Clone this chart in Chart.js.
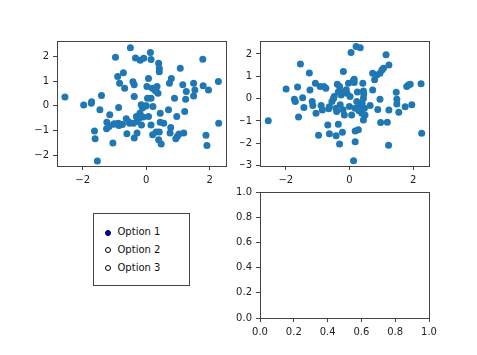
<!DOCTYPE html>
<html>
<head>
<meta charset="utf-8">
<script src="https://cdn.jsdelivr.net/npm/chart.js@4.4.0/dist/chart.umd.min.js"></script>
<style>
  html, body { margin:0; padding:0; background:#fff; width:477px; height:355px; overflow:hidden; }
  canvas { position:absolute; }
  #radio { position:absolute; left:93px; top:213px; width:97px; height:73px; border:1px solid #444; box-sizing:border-box; background:#fff; }
  .opt { position:absolute; left:0; font-family:"DejaVu Sans", sans-serif; font-size:10px; color:#111; line-height:12px; white-space:nowrap; }
  .dot { position:absolute; width:6px; height:6px; border:1px solid #000; border-radius:50%; box-sizing:border-box; background:#fff; }
  .dot.on { background:#0000ff; }
</style>
</head>
<body>
<canvas id="c1" width="240" height="190" style="left:0;top:0;"></canvas>
<canvas id="c2" width="237" height="190" style="left:240px;top:0;"></canvas>
<canvas id="c3" width="247" height="175" style="left:230px;top:180px;"></canvas>
<div id="radio"></div>
<script>
// ---------- data ----------
const scatter1X = [-2.56,-1.97,-1.73,-1.72,-1.41,-1.46,-1.63,-1.61,-1.54,-1.15,-1.24,-1.25,-1.17,-1.05,-0.87,-0.97,-0.90,-0.84,-0.72,-0.68,
  -0.88,-0.86,-1.03,-0.63,-0.61,-0.50,-0.52,-0.40,-0.42,-0.38,-0.38,-0.34,-0.19,-0.08,0.13,0.15,-0.31,-0.23,-0.29,-0.15,
  -0.38,-0.29,-0.16,-0.12,-0.02,0.02,0.07,0.04,0.15,0.07,0.15,0.21,0.19,0.28,0.34,0.37,0.39,0.41,0.41,0.44,
  0.44,0.31,0.41,0.20,0.39,0.47,0.70,0.75,0.77,0.73,0.79,0.89,0.96,0.93,0.98,1.03,1.07,1.15,1.18,1.21,
  1.24,1.26,1.49,1.49,1.53,1.78,1.79,1.88,1.91,1.96,2.27,2.28,-0.55,-0.75,-0.10,0.00,0.30,-0.20,0.55,-1.00];
const scatter1Y = [0.36,0.03,0.11,0.17,0.42,-0.16,-1.02,-1.33,-2.23,-0.36,-0.66,-0.93,-0.83,-1.50,-0.07,1.96,1.19,0.91,1.34,0.71,
  -0.70,-0.79,-0.74,-0.52,-1.13,2.35,-0.70,-0.70,0.97,0.85,0.38,1.93,1.84,1.92,2.16,1.87,-0.43,-0.50,-0.63,-0.77,
  -1.30,-1.10,0.04,-0.09,-0.01,0.78,1.11,0.31,0.31,-0.43,-0.77,-0.03,0.71,0.64,0.78,0.51,1.72,1.52,1.38,-0.30,
  -0.66,-1.06,-1.06,-1.17,-1.37,-1.54,-0.16,-1.10,-0.87,0.91,1.11,0.31,-0.43,-1.33,-1.23,-1.14,1.52,0.85,-1.10,-0.23,
  0.27,0.58,0.91,0.40,0.64,1.88,0.81,-1.19,-1.60,0.64,0.98,-0.70,-0.65,-0.75,-0.45,0.00,0.60,-0.30,-0.70,-0.72];

const scatter2X = [-2.55,-1.99,-1.73,-1.70,-1.63,-1.60,-1.54,-1.47,-1.43,-1.26,-1.24,-1.17,-1.15,-1.07,-1.05,-0.97,-0.92,-0.89,-0.85,-0.80,
  -0.74,-0.68,-0.63,-0.63,-0.55,-0.48,-0.42,-0.38,-0.35,-0.31,-0.31,-0.26,-0.22,-0.19,-0.17,-0.16,-0.08,-0.03,-0.40,-0.42,
  -0.29,0.02,0.05,0.07,0.13,0.15,0.15,0.18,0.18,0.21,0.34,0.28,0.18,0.23,0.34,0.39,0.42,0.44,0.44,0.47,
  0.49,0.44,0.65,0.73,0.73,0.79,0.86,0.89,0.96,0.96,1.02,1.07,0.98,1.15,1.19,1.23,1.24,1.24,1.47,1.49,
  1.49,1.55,1.75,1.80,1.85,1.91,1.96,2.25,2.27,-0.50,-0.35,0.25,0.40,-0.20,0.00,0.30,-0.65,0.45,-0.10,0.12];
const scatter2Y = [-0.99,0.43,-0.03,-0.13,0.52,-0.82,1.55,0.04,-0.40,1.15,0.39,-0.13,-0.31,0.69,-0.66,-1.64,0.54,-0.31,-0.51,0.54,
  0.46,-1.18,-1.58,-0.36,-0.13,0.09,-1.67,0.64,-1.15,-2.03,0.54,0.16,-1.51,1.21,0.31,-0.73,0.24,0.69,-0.58,-0.43,
  -0.28,0.09,2.07,-0.73,-2.79,0.87,0.72,-1.45,-1.93,2.33,2.28,-1.40,-0.43,-0.13,-0.28,-0.66,0.69,0.34,0.01,-0.43,
  -0.73,-0.96,-0.31,0.39,1.13,0.84,1.06,-0.49,-0.03,1.13,1.28,1.36,-1.07,1.96,-1.06,-2.09,1.51,-0.51,0.28,-0.03,
  -0.24,-0.61,-0.36,0.54,0.61,0.64,-0.28,0.66,-1.55,0.00,0.30,0.30,-0.20,-0.50,-0.35,-0.55,-0.45,0.20,0.40,0.80];

const ticks1X = [-2, 0, 2];
const ticks1Y = [-2, -1, 0, 1, 2];
const ticks2X = [-2, 0, 2];
const ticks2Y = [-3, -2, -1, 0, 1, 2];
const ticks3 = [0, 0.2, 0.4, 0.6, 0.8, 1.0];
const radioLabels = ['Option 1', 'Option 2', 'Option 3'];
const radioActive = 0;

// ---------- helpers ----------
const AX = '#444';
const FONT = { family: 'DejaVu Sans', size: 10 };
const frame = {
  id: 'frame',
  afterDraw(chart) {
    const a = chart.chartArea, ctx = chart.ctx;
    ctx.save();
    ctx.strokeStyle = AX; ctx.lineWidth = 1;
    ctx.strokeRect(Math.round(a.left) + 0.5, Math.round(a.top) + 0.5,
                   Math.round(a.right) - Math.round(a.left), Math.round(a.bottom) - Math.round(a.top));
    ctx.restore();
  }
};
function axis(min, max, ticks, fixed, isX, fmt) {
  return {
    type: 'linear', min, max,
    afterBuildTicks: s => { s.ticks = ticks.map(v => ({ value: v })); },
    afterFit: s => { if (isX) s.height = fixed; else s.width = fixed; },
    grid: { display: true, drawOnChartArea: false, drawTicks: true, tickLength: 4, color: AX, tickColor: AX },
    border: { display: false },
    ticks: { font: FONT, color: '#222', padding: 4, maxRotation: 0, autoSkip: false,
             callback: v => fmt ? fmt(v) : (v < 0 ? '\u2212' + Math.abs(v) : String(v)) }
  };
}
function pts(xs, ys) { return xs.map((x, i) => ({ x, y: ys[i] })); }
function makeChart(id, data, xs, ys, pad) {
  return new Chart(document.getElementById(id), {
    type: 'scatter',
    data: { datasets: [{ data, backgroundColor: '#1f77b4', borderWidth: 0, pointRadius: 3.5, pointHoverRadius: 3.5 }] },
    options: {
      responsive: false, animation: false, devicePixelRatio: 1,
      layout: { padding: pad },
      plugins: { legend: { display: false }, tooltip: { enabled: false } },
      scales: { x: xs, y: ys }
    },
    plugins: [frame]
  });
}

makeChart('c1', pts(scatter1X, scatter1Y),
  axis(-2.81, 2.51, ticks1X, 24, true), axis(-2.43, 2.62, ticks1Y, 57, false),
  { left: 0, top: 41, right: 14, bottom: 0 });

makeChart('c2', pts(scatter2X, scatter2Y),
  axis(-2.81, 2.50, ticks2X, 24, true), axis(-3.02, 2.58, ticks2Y, 20, false),
  { left: 0, top: 41, right: 48, bottom: 0 });

const f1 = v => v.toFixed(1);
makeChart('c3', [],
  axis(0, 1, ticks3, 37, true, f1), axis(0, 1, ticks3, 30, false, f1),
  { left: 0, top: 12, right: 48, bottom: 0 });

// ---------- radio widget ----------
const box = document.getElementById('radio');
radioLabels.forEach((lab, i) => {
  const cy = 18.5 + i * 17.8;
  const d = document.createElement('span');
  d.className = 'dot' + (i === radioActive ? ' on' : '');
  d.style.left = '11.3px';
  d.style.top = (cy - 3) + 'px';
  box.appendChild(d);
  const t = document.createElement('span');
  t.className = 'opt';
  t.textContent = lab;
  t.style.left = '23.5px';
  t.style.top = (cy - 6.5) + 'px';
  box.appendChild(t);
});
</script>
</body>
</html>
